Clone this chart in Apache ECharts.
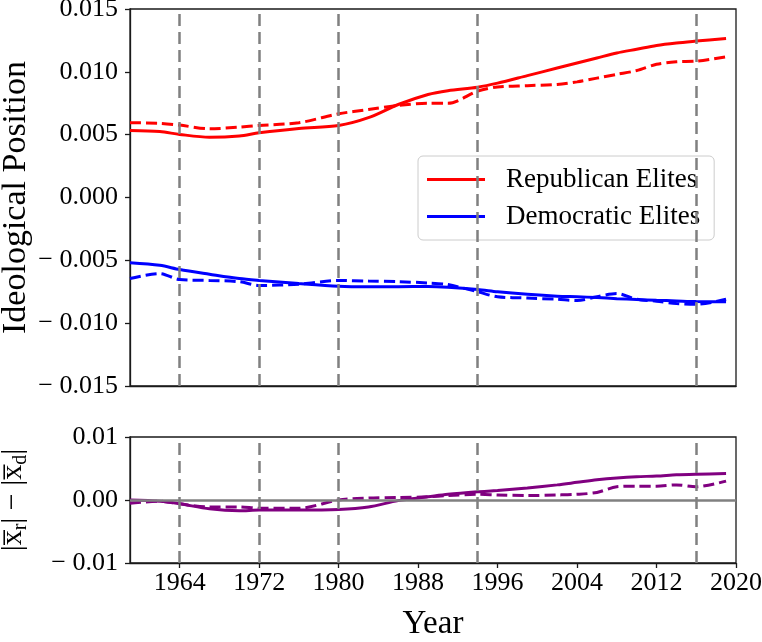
<!DOCTYPE html>
<html><head><meta charset="utf-8">
<script src="https://cdn.jsdelivr.net/npm/echarts@6/dist/echarts.min.js"></script>
<style>html,body{margin:0;padding:0;background:#fff}#c{width:762px;height:642px}</style>
</head><body><div id="c"></div>
<script>
const years = [1959,1962,1964,1967,1970,1972,1976,1980,1983,1986,1989,1991,1994,1996,1999,2002,2004,2006,2008,2010,2012,2014,2016,2019];
const repElites = [0.00533,0.00525,0.00502,0.0048,0.0049,0.00515,0.0055,0.00573,0.00635,0.0074,0.0082,0.0085,0.00878,0.0091,0.0097,0.0103,0.0107,0.0111,0.0115,0.0118,0.0121,0.0123,0.01245,0.01266];
const repDashed = [0.00595,0.0059,0.00576,0.00547,0.0056,0.00573,0.00595,0.00666,0.007,0.00732,0.0075,0.0075,0.00846,0.0088,0.0089,0.009,0.0092,0.0095,0.0098,0.0101,0.0106,0.0108,0.01085,0.0112];
const demElites = [-0.0052,-0.0054,-0.00573,-0.0061,-0.00645,-0.0066,-0.00685,-0.00706,-0.0071,-0.0071,-0.00708,-0.00714,-0.00732,-0.0075,-0.0077,-0.00785,-0.0079,-0.00796,-0.00805,-0.00812,-0.00818,-0.00823,-0.00828,-0.0083];
const demDashed = [-0.00645,-0.00605,-0.00653,-0.0066,-0.0067,-0.007,-0.0069,-0.0066,-0.00665,-0.0067,-0.0068,-0.00693,-0.0075,-0.0079,-0.008,-0.0081,-0.0082,-0.0079,-0.00764,-0.0081,-0.00825,-0.00844,-0.0085,-0.0081];
const gapSolid = [0.0,-0.0002,-0.0006,-0.0014,-0.0017,-0.0016,-0.0016,-0.0015,-0.0011,-0.0001,0.0005,0.0009,0.0013,0.0015,0.0019,0.0024,0.0028,0.0032,0.0035,0.0037,0.0038,0.004,0.0041,0.0042];
const gapDashed = [-0.0005,-0.0002,-0.0006,-0.0011,-0.0011,-0.0013,-0.0013,0.0,0.0003,0.0004,0.0005,0.0007,0.0009,0.0008,0.0007,0.0008,0.0009,0.0012,0.0021,0.0022,0.0022,0.0024,0.0021,0.003];
const eventYears = [1964,1972,1980,1994,2016];
const xTicks = [1964,1972,1980,1988,1996,2004,2012,2020];
const topTicks = [-0.015,-0.01,-0.005,0,0.005,0.01,0.015];
const bottomTicks = [-0.01,0,0.01];

const FONT = 'Liberation Serif';
const AX = '#1a1a1a';
function pairs(v){ return years.map((y,i)=>[y,v[i]]); }
function fmt(d){ return function(v){ if(Math.abs(v)<1e-12) return (0).toFixed(d); return (v<0?'\u2212 ':'') + Math.abs(v).toFixed(d); }; }

const chart = echarts.init(document.getElementById('c'), null, {renderer:'canvas'});
const vLines = {silent:true, symbol:['none','none'], label:{show:false},
  lineStyle:{color:'#808080', type:[12,6], width:2.5},
  data: eventYears.map(y=>({xAxis:y}))};

function xAxisCfg(idx, showLabels){
  return {type:'value', gridIndex:idx, min:1959, max:2020,
    axisLine:{show:true, onZero:false, lineStyle:{color:AX, width:1.3}},
    axisTick:{show:showLabels, length:5, customValues:xTicks, lineStyle:{color:AX, width:1.3}},
    axisLabel:{show:showLabels, customValues:xTicks, margin:7, fontFamily:FONT, fontSize:26, color:'#000', formatter:function(v){return String(v);}},
    splitLine:{show:false},
    name: showLabels ? 'Year' : '', nameLocation:'middle', nameGap:45, nameMoveOverlap:false,
    nameTextStyle:{fontFamily:FONT, fontSize:33, color:'#000'}};
}

chart.setOption({
  animation:false,
  backgroundColor:'#fff',
  grid:[
    {left:130, top:9, width:606, height:377, show:true, borderColor:AX, borderWidth:1.3, backgroundColor:'transparent', containLabel:false, outerBoundsMode:'none'},
    {left:130, top:437, width:606, height:126, show:true, borderColor:AX, borderWidth:1.3, backgroundColor:'transparent', containLabel:false, outerBoundsMode:'none'}
  ],
  xAxis:[xAxisCfg(0,false), xAxisCfg(1,true)],
  yAxis:[
    {type:'value', gridIndex:0, min:-0.015, max:0.015,
     axisLine:{show:true, lineStyle:{color:AX, width:1.3}},
     axisTick:{show:true, length:5, customValues:topTicks, lineStyle:{color:AX, width:1.3}},
     axisLabel:{customValues:topTicks, margin:12, fontFamily:FONT, fontSize:26, color:'#000', formatter:fmt(3)},
     splitLine:{show:false},
     name:'Ideological Position', nameLocation:'middle', nameGap:97, nameMoveOverlap:false,
     nameTextStyle:{fontFamily:FONT, fontSize:34, color:'#000'}},
    {type:'value', gridIndex:1, min:-0.01, max:0.01,
     axisLine:{show:true, lineStyle:{color:AX, width:1.3}},
     axisTick:{show:true, length:5, customValues:bottomTicks, lineStyle:{color:AX, width:1.3}},
     axisLabel:{customValues:bottomTicks, margin:12, fontFamily:FONT, fontSize:26, color:'#000', formatter:fmt(2)},
     splitLine:{show:false},
     name:'{t||x\u0305}{s|r}{t|| \u2212 |x\u0305}{s|d}{t||}', nameLocation:'middle', nameGap:99, nameMoveOverlap:false,
     nameTextStyle:{fontFamily:FONT, fontSize:30, color:'#000',
       rich:{t:{fontFamily:FONT, fontSize:30, lineHeight:36, color:'#000'},
             s:{fontFamily:FONT, fontSize:20, lineHeight:20, verticalAlign:'bottom', color:'#000'}}}}
  ],
  legend:{data:['Republican Elites','Democratic Elites'], orient:'vertical', left:418, top:156,
    padding:[10,14,10,9], icon:'rect', itemWidth:58, itemHeight:3, itemGap:10,
    backgroundColor:'rgba(255,255,255,0.8)', borderColor:'#cccccc', borderWidth:1, borderRadius:5,
    textStyle:{fontFamily:FONT, fontSize:27, color:'#000', padding:[0,0,0,16]}},
  series:[
    {type:'line', name:'events-top', xAxisIndex:0, yAxisIndex:0, data:[], z:1, markLine:vLines},
    {type:'line', name:'events-bottom', xAxisIndex:1, yAxisIndex:1, data:[], z:1, markLine:vLines},
    {type:'line', name:'zero', xAxisIndex:1, yAxisIndex:1, data:[], z:1,
     markLine:{silent:true, symbol:['none','none'], label:{show:false}, lineStyle:{color:'#808080', type:'solid', width:2.5}, data:[{yAxis:0}]}},
    {type:'line', name:'Republican Elites', xAxisIndex:0, yAxisIndex:0, data:pairs(repElites), smooth:0.3, symbol:'none', z:3,
     color:'#ff0000', lineStyle:{color:'#ff0000', width:3}},
    {type:'line', name:'Republican Elites (dashed)', xAxisIndex:0, yAxisIndex:0, data:pairs(repDashed), smooth:0.3, symbol:'none', z:3,
     color:'#ff0000', lineStyle:{color:'#ff0000', width:3, type:[11,5]}},
    {type:'line', name:'Democratic Elites', xAxisIndex:0, yAxisIndex:0, data:pairs(demElites), smooth:0.3, symbol:'none', z:3,
     color:'#0000ff', lineStyle:{color:'#0000ff', width:3}},
    {type:'line', name:'Democratic Elites (dashed)', xAxisIndex:0, yAxisIndex:0, data:pairs(demDashed), smooth:0.3, symbol:'none', z:3,
     color:'#0000ff', lineStyle:{color:'#0000ff', width:3, type:[11,5]}},
    {type:'line', name:'Gap', xAxisIndex:1, yAxisIndex:1, data:pairs(gapSolid), smooth:0.3, symbol:'none', z:3,
     color:'#800080', lineStyle:{color:'#800080', width:3}},
    {type:'line', name:'Gap (dashed)', xAxisIndex:1, yAxisIndex:1, data:pairs(gapDashed), smooth:0.3, symbol:'none', z:3,
     color:'#800080', lineStyle:{color:'#800080', width:3, type:[11,5]}}
  ]
});
</script></body></html>
